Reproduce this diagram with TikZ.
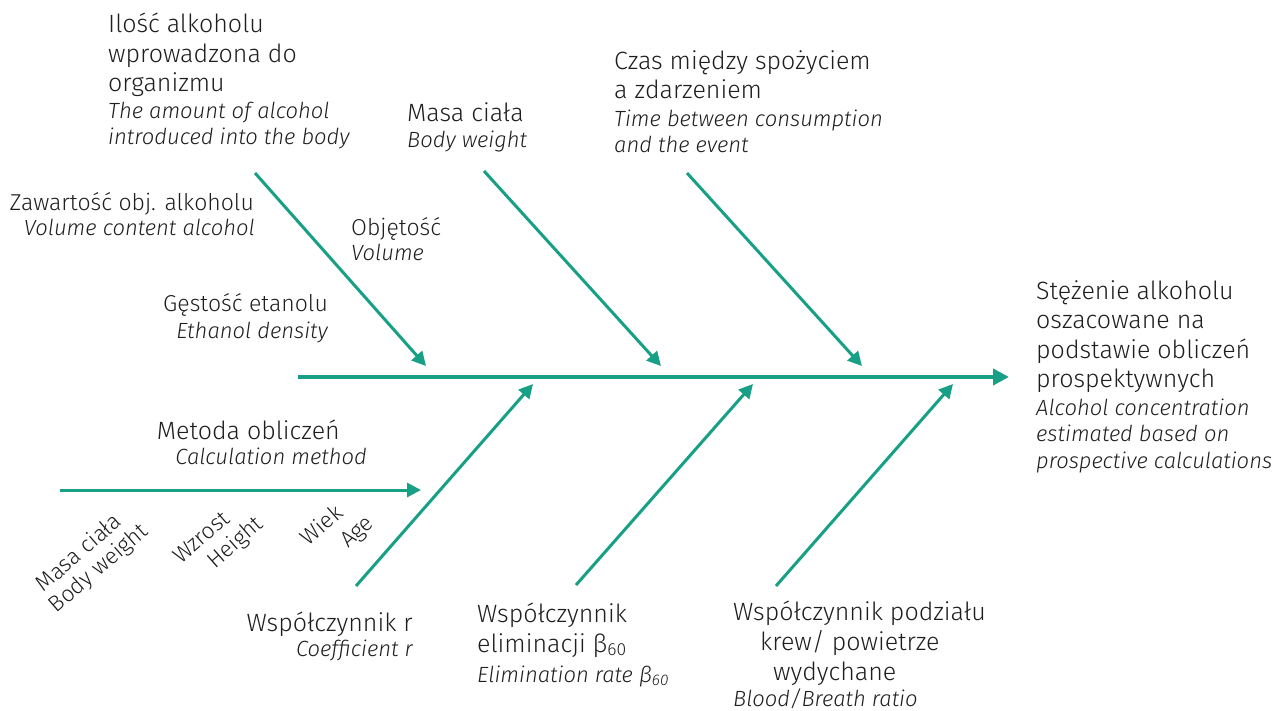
\documentclass[tikz,border=0pt]{standalone}
\usepackage{fontspec}
\setmainfont{Fira Sans Light}[ItalicFont={Fira Sans Light Italic}]
\usetikzlibrary{arrows.meta}
\definecolor{teal1}{HTML}{17A085}
\definecolor{txt}{HTML}{1E1E1E}
\tikzset{
  up/.style={font=\fontsize{25}{29.6}\selectfont, text=txt, inner sep=0pt},
  ups/.style={font=\fontsize{23}{28}\selectfont, text=txt, inner sep=0pt},
  it/.style={font=\itshape\fontsize{22}{26.5}\selectfont, text=txt, inner sep=0pt},
  rot/.style={font=\fontsize{22.5}{26}\selectfont, text=txt, inner sep=0pt, rotate=41, anchor=center},
  arr/.style={draw=teal1, line width=3pt, -{Triangle[length=14pt,width=14pt]}},
  spine/.style={draw=teal1, line width=4pt, -{Triangle[length=16pt,width=16pt]}}
}
\begin{document}
\begin{tikzpicture}[x=1pt,y=-1pt]
\useasboundingbox (0,0) rectangle (1288,711);
% coordinates
\coordinate (sS) at (298,377);
\coordinate (sE) at (1009,377);
\coordinate (a1) at (255,173); \coordinate (b1) at (426,366);
\coordinate (a2) at (484,171); \coordinate (b2) at (661,366);
\coordinate (a3) at (687,173); \coordinate (b3) at (862,366);
\coordinate (a4) at (356,586); \coordinate (b4) at (533,384);
\coordinate (a5) at (576,585); \coordinate (b5) at (753,384);
\coordinate (a6) at (776,586); \coordinate (b6) at (953,384);
\coordinate (h1) at (60,490); \coordinate (h2) at (421,490);
% connectors
\draw[spine] (sS) -- (sE);
\draw[arr] (a1) -- (b1);
\draw[arr] (a2) -- (b2);
\draw[arr] (a3) -- (b3);
\draw[arr] (a4) -- (b4);
\draw[arr] (a5) -- (b5);
\draw[arr] (a6) -- (b6);
\draw[arr] (h1) -- (h2);
% texts (base anchor = baseline of the last line)
\node[up, anchor=base west, align=left] (t1) at (108,92) {Ilość alkoholu\\wprowadzona do\\organizmu};
\node[it, anchor=base west, align=left] (t1i) at (108,145) {The amount of alcohol\\introduced into the body};
\node[ups, anchor=base east] (t2) at (254,211) {Zawartość obj. alkoholu};
\node[it, anchor=base east] (t2i) at (255,236) {Volume content alcohol};
\node[ups, anchor=base west] (t3) at (351,236) {Objętość};
\node[it, anchor=base west] (t3i) at (351,261) {Volume};
\node[ups, anchor=base east] (t4) at (328,312) {Gęstość etanolu};
\node[it, anchor=base east] (t4i) at (328,338) {Ethanol density};
\node[up, anchor=base west] (t5) at (407,122) {Masa ciała};
\node[it, anchor=base west] (t5i) at (407,148) {Body weight};
\node[up, anchor=base west, align=left] (t6) at (614,99) {Czas między spożyciem\\a zdarzeniem};
\node[it, anchor=base west, align=left] (t6i) at (614,153) {Time between consumption\\and the event};
\node[up, anchor=base west, align=left] (t7) at (1036,388) {Stężenie alkoholu\\oszacowane na\\podstawie obliczeń\\prospektywnych};
\node[it, anchor=base west, align=left] (t7i) at (1036,468) {Alcohol concentration\\estimated based on\\prospective calculations};
\node[up, anchor=base east] (t8) at (340,439) {Metoda obliczeń};
\node[it, anchor=base east] (t8i) at (367,464) {Calculation method};
\node[up, anchor=base east] (t9) at (413,631) {Współczynnik r};
\node[it, anchor=base east] (t9i) at (413,656) {Coefficient r};
\node[up, anchor=base west, align=left] (t10) at (477,652) {Współczynnik\\eliminacji β\textsubscript{60}};
\node[it, anchor=base west] (t10i) at (477,682) {Elimination rate β\textsubscript{60}};
\node[up, anchor=base west, align=left] (t11) at (733,680) {Współczynnik podziału\\\hspace*{27pt}krew/ powietrze\\\hspace*{40pt}wydychane};
\node[it, anchor=base west] (t11i) at (733,706) {Blood/Breath ratio};
% rotated
\node[rot] (r1) at (78,552) {Masa ciała};
\node[rot] (r2) at (99,569) {Body weight};
\node[rot] (r3) at (201,537) {Wzrost};
\node[rot] (r4) at (236,543) {Height};
\node[rot] (r5) at (321,525) {Wiek};
\node[rot] (r6) at (358,533) {Age};
\end{tikzpicture}
\end{document}
